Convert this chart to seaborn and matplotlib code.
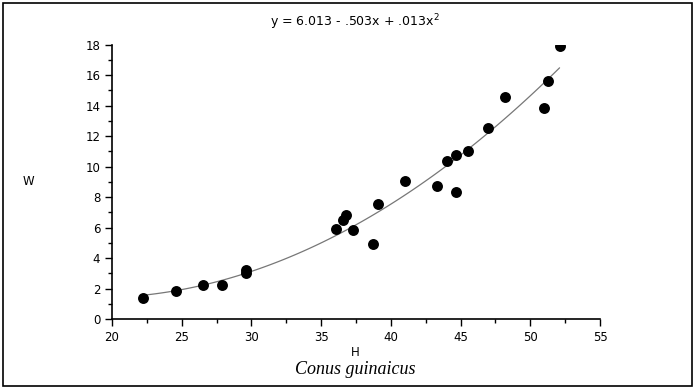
import matplotlib
matplotlib.use("Agg")
import matplotlib.pyplot as plt
import seaborn as sns
import numpy as np
import pandas as pd
from matplotlib.ticker import MultipleLocator
from matplotlib.patches import Rectangle

H = [22.2, 24.6, 26.5, 27.9, 29.6, 29.6, 36.1, 36.6, 36.8, 37.3, 38.7, 39.1,
     41.0, 43.3, 44.0, 44.7, 44.7, 45.5, 47.0, 48.2, 51.0, 51.3, 52.1]
W = [1.4, 1.85, 2.25, 2.25, 3.2, 3.0, 5.9, 6.5, 6.8, 5.85, 4.95, 7.55,
     9.05, 8.75, 10.35, 8.35, 10.75, 11.05, 12.55, 14.6, 13.85, 15.6, 17.9]
title_text = "y = 6.013 - .503x + .013x$^2$"

df = pd.DataFrame({"H": H, "W": W})

sns.set_style("ticks")
plt.rcParams['font.family'] = ['DejaVu Sans']
plt.rcParams['text.color'] = 'black'

fig = plt.figure(figsize=(6.97, 3.89), dpi=100)
ax = fig.add_axes([112/697, 1-319/389, (600-112)/697, (319-44.7)/389])

sns.regplot(data=df, x="H", y="W", order=2, ci=None, ax=ax,
            scatter_kws=dict(s=62, color="black", edgecolor="black", linewidths=0,
                             alpha=1, zorder=3),
            line_kws=dict(color="#777777", lw=0.9))

ax.set_xlim(20, 55)
ax.set_ylim(0, 18)
ax.xaxis.set_major_locator(MultipleLocator(5))
ax.xaxis.set_minor_locator(MultipleLocator(2.5))
ax.yaxis.set_major_locator(MultipleLocator(2))
ax.yaxis.set_minor_locator(MultipleLocator(1))
ax.tick_params(which="major", length=5, width=1, labelsize=8.5, direction="out",
               colors="black", labelcolor="black")
ax.tick_params(which="minor", length=3, width=1, direction="out", colors="black")
for s in ["left", "bottom"]:
    ax.spines[s].set_linewidth(1.2)
    ax.spines[s].set_color("black")
sns.despine(ax=ax)
ax.set_xlabel("")
ax.set_ylabel("")
ax.patch.set_alpha(0)

fig.text(355/697, 1-22/389, title_text, ha="center", va="center", fontsize=9, color="black")
fig.text(28/697, 1-182/389, "W", ha="center", va="center", fontsize=8.5, color="black")
fig.text(355/697, 1-352/389, "H", ha="center", va="center", fontsize=8.5, color="black")
fig.text(355/697, 1-369/389, "Conus guinaicus", ha="center", va="center",
         fontsize=13, family=["Liberation Serif", "DejaVu Serif"], style="italic",
         color="black")

fig.patches.append(Rectangle((3/697, 3/389), 689/697, 383/389, transform=fig.transFigure,
                             fill=False, edgecolor="black", lw=1.2))

fig.savefig("out.png", dpi=100)
